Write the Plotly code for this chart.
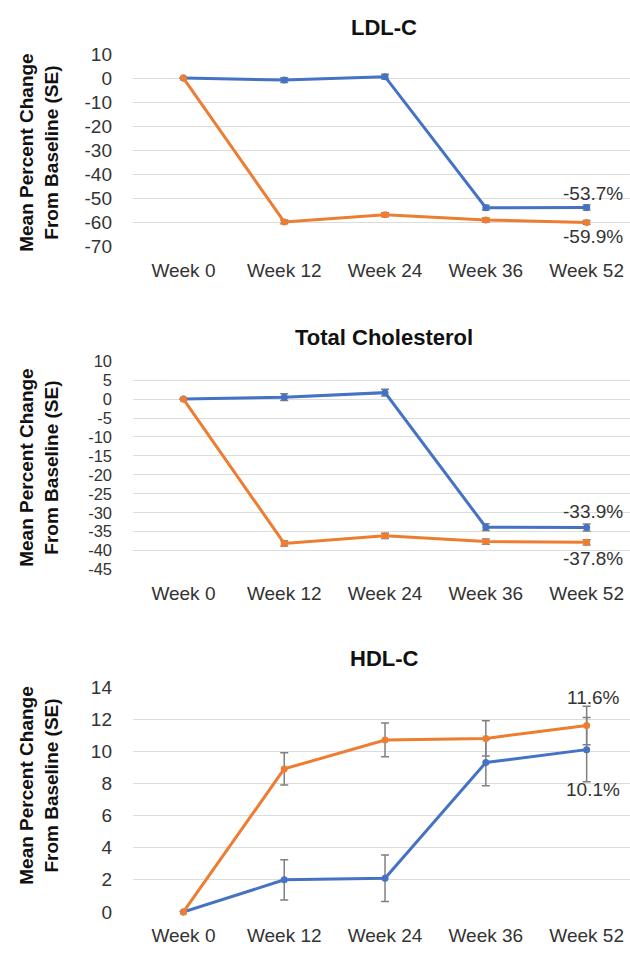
import plotly.graph_objects as go

W, H = 630, 966

weeks = ["Week 0", "Week 12", "Week 24", "Week 36", "Week 52"]

ldl_blue = [0, -0.8, 0.6, -53.8, -53.7]
ldl_orange = [0, -59.7, -56.7, -58.9, -59.9]
ldl_blue_se = [0, 1.0, 1.0, 1.0, 1.0]
ldl_orange_se = [0, 0.8, 0.8, 0.8, 0.8]

tc_blue = [0, 0.5, 1.7, -33.8, -33.9]
tc_orange = [0, -38.1, -36.1, -37.6, -37.8]
tc_blue_se = [0, 0.9, 0.9, 0.9, 0.9]
tc_orange_se = [0, 0.7, 0.7, 0.7, 0.7]

hdl_blue = [0, 2.0, 2.1, 9.3, 10.1]
hdl_orange = [0, 8.9, 10.7, 10.8, 11.6]
hdl_blue_se = [0, 1.25, 1.45, 1.45, 2.0]
hdl_orange_se = [0, 1.0, 1.05, 1.1, 1.2]

ldl_ticks = [10, 0, -10, -20, -30, -40, -50, -60, -70]
tc_ticks = [10, 5, 0, -5, -10, -15, -20, -25, -30, -35, -40, -45]
hdl_ticks = [14, 12, 10, 8, 6, 4, 2, 0]

panel_titles = ["LDL-C", "Total Cholesterol", "HDL-C"]
end_labels = [("-53.7%", "-59.9%"), ("-33.9%", "-37.8%"), ("11.6%", "10.1%")]
y_ranges = [(-70, 10), (-45, 10), (0, 14)]
tick_sets = [ldl_ticks, tc_ticks, hdl_ticks]
ytick_sizes = [19, 16.5, 19]

BLUE = "#4472C4"
ORANGE = "#ED7D31"
FONT = "Liberation Sans, Arial, sans-serif"
TXT = "#333333"


def py(p):
    return 1 - p / H


def px(p):
    return p / W


panels = [(45, 242), (359, 572), (692, 922)]
title_y = [18, 335, 663]
ytitle_y = [146, 468, 793]
label_y = [(188, 232), (513, 561), (703, 797)]

series = [
    (ldl_blue, ldl_blue_se, ldl_orange, ldl_orange_se),
    (tc_blue, tc_blue_se, tc_orange, tc_orange_se),
    (hdl_blue, hdl_blue_se, hdl_orange, hdl_orange_se),
]

fig = go.Figure()
annotations = []
layout_axes = {}

for i in range(3):
    n = "" if i == 0 else str(i + 1)
    xa, ya = "x" + n, "y" + n
    b, bse, o, ose = series[i]
    for vals, se, col in ((b, bse, BLUE), (o, ose, ORANGE)):
        fig.add_trace(go.Scatter(
            x=weeks, y=vals, xaxis=xa, yaxis=ya, mode="lines+markers",
            line=dict(color=col, width=3),
            marker=dict(color=col, size=7),
            error_y=dict(type="data", array=se, visible=True,
                         color="#808080", thickness=1.5, width=4),
            showlegend=False, cliponaxis=False,
        ))
    top, bot = panels[i]
    lo, hi = y_ranges[i]
    tv = tick_sets[i]
    layout_axes["xaxis" + n] = dict(
        domain=[px(133), 1], anchor=ya, type="category",
        range=[-0.5, 4.43], showgrid=False, zeroline=False, showline=False,
        ticks="", ticklabelstandoff=10,
        tickfont=dict(family=FONT, size=19, color=TXT),
    )
    layout_axes["yaxis" + n] = dict(
        domain=[py(bot), py(top)], anchor=xa, range=[lo, hi],
        tickmode="array", tickvals=tv, ticktext=[str(t) for t in tv],
        showgrid=True, gridcolor="#dcdcdc", gridwidth=1,
        zeroline=False, showline=False, ticks="", ticklabelstandoff=20,
        tickfont=dict(family=FONT, size=ytick_sizes[i], color=TXT),
    )
    annotations.append(dict(
        text="<b>" + panel_titles[i] + "</b>", xref="paper", yref="paper",
        x=px(384), y=py(title_y[i]), xanchor="center", yanchor="middle",
        showarrow=False, font=dict(family=FONT, size=22, color="#111111"),
    ))
    annotations.append(dict(
        text="<b>Mean Percent Change<br>From Baseline (SE)</b>",
        xref="paper", yref="paper", x=px(39), y=py(ytitle_y[i]),
        xanchor="center", yanchor="middle", textangle=-90, showarrow=False,
        font=dict(family=FONT, size=19, color="#111111"),
    ))
    for lab, yy in zip(end_labels[i], label_y[i]):
        annotations.append(dict(
            text=lab, xref="paper", yref="paper", x=px(593), y=py(yy),
            xanchor="center", yanchor="middle", showarrow=False,
            font=dict(family=FONT, size=19, color=TXT),
        ))

fig.update_layout(
    width=W, height=H, margin=dict(l=0, r=0, t=0, b=0),
    paper_bgcolor="white", plot_bgcolor="white",
    annotations=annotations, **layout_axes,
)

fig.write_html("out.html", config={"displayModeBar": False},
               post_script="document.body.style.margin='0';"
                           "document.documentElement.style.overflow='hidden';")
